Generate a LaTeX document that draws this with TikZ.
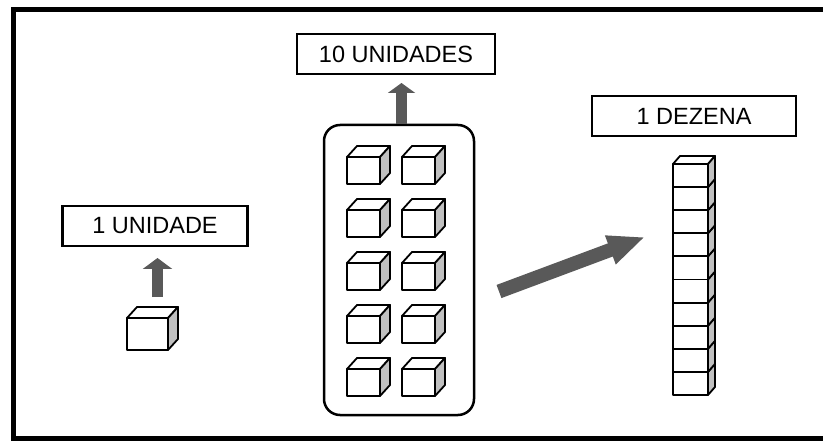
\documentclass[tikz,border=0pt]{standalone}
\usepackage{fontspec}
\setmainfont{Liberation Sans}
\usetikzlibrary{arrows.meta}
\definecolor{arrowgray}{RGB}{89,89,89}
\definecolor{sidegray}{RGB}{192,192,192}
\newcommand{\drawcube}[6]{%
  \filldraw[cubeline, fill=white] (#1,#2) -- ++(#5,-#6) -- ++(#3,0) -- ++(-#5,#6) -- cycle;
  \filldraw[cubeline, fill=sidegray] ({#1+#3},#2) -- ++(#5,-#6) -- ++(0,#4) -- ++(-#5,#6) -- cycle;
  \filldraw[cubeline, fill=white] (#1,#2) rectangle ++(#3,#4);
}
\begin{document}
\begin{tikzpicture}[x=1pt,y=-1pt,
  labelbox/.style={draw, line width=2.5pt, minimum height=40pt, inner sep=0pt,
    font=\fontsize{23.5}{26}\selectfont},
  cubeline/.style={line width=1.8pt, line join=round},
  fatarrow/.style={arrowgray, line width=#1}]
\useasboundingbox (0,0) rectangle (823,441);
\clip (0,0) rectangle (823,441);
\fill[white] (0,0) rectangle (823,441);
% outer frame
\draw[line width=5pt] (13.5,9.5) rectangle (840,438.5);

% labels
\node[labelbox, minimum width=185pt] (u1) at (155,226) {1 UNIDADE};
\node[labelbox, minimum width=198pt] (u10) at (396,54) {10 UNIDADES};
\node[labelbox, minimum width=204pt] (dz) at (694,116) {1 DEZENA};

% group of ten units
\node[draw, line width=2.5pt, rounded corners=16pt, minimum width=150pt, minimum height=290pt,
  inner sep=0pt] (grp) at (399,270) {};
\foreach \r in {0,...,4}{
  \foreach \c in {0,1}{
    \drawcube{347+55*\c}{157+53*\r}{33}{27}{10}{11}
  }
}

% single unit
\drawcube{127}{318}{41}{32}{10}{11}

% column of ten (one ten)
\foreach \i in {9,8,...,0}{
  \drawcube{673}{164+23.1*\i}{35}{23.1}{7}{8}
}

% arrows
\coordinate (a1s) at (157.5,297);
\coordinate (a1e) at (157.5,258);
\draw[fatarrow=11pt, -{Triangle[width=29pt,length=11pt]}] (a1s) -- (a1e);

\coordinate (a2s) at (401.5,124);
\coordinate (a2e) at (401.5,83);
\draw[fatarrow=11pt, -{Triangle[width=27pt,length=10pt]}] (a2s) -- (a2e);

\coordinate (a3s) at (499,291.5);
\coordinate (a3e) at (645,237);
\draw[fatarrow=14pt, -{Triangle[width=28pt,length=37pt]}] (a3s) -- (a3e);
\end{tikzpicture}
\end{document}
